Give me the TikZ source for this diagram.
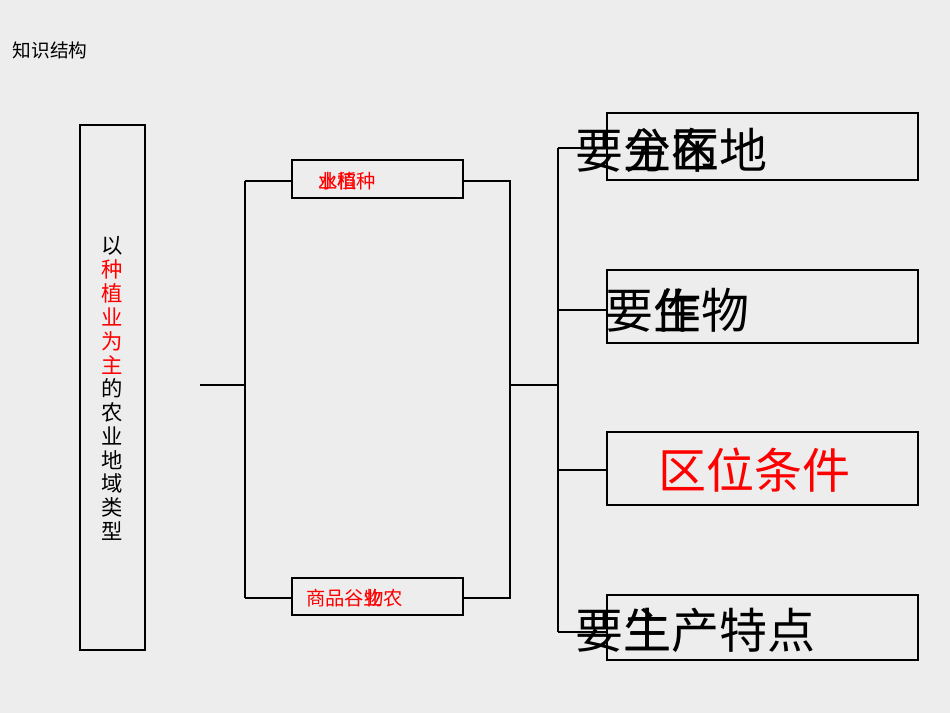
\documentclass[tikz,border=0pt]{standalone}
\usepackage{fontspec}
\newfontfamily\cjk{Noto Sans CJK SC}
\begin{document}
\begin{tikzpicture}[x=0.75pt,y=-0.75pt,
  bx/.style={draw=black,line width=1.6pt},
  ln/.style={draw=black,line width=1.4pt},
  big/.style={font=\cjk\fontsize{36}{36}\selectfont,anchor=west,inner sep=0pt},
  sm/.style={font=\cjk\fontsize{14.5}{15}\selectfont,anchor=west,inner sep=0pt,text=red},
  vt/.style={font=\cjk\fontsize{16}{16}\selectfont,inner sep=0pt}]
\fill[gray!14] (0,0) rectangle (950,713);
\useasboundingbox (0,0) rectangle (950,713);
\node[font=\cjk\fontsize{14}{14}\selectfont,anchor=west] (title) at (8,50) {知识结构};
% left box
\draw[bx] (80,125) rectangle (145,650);
\foreach \c/\col [count=\i] in {以/black,种/red,植/red,业/red,为/red,主/red,的/black,农/black,业/black,地/black,域/black,类/black,型/black}
  \node[vt,text=\col] at (112,{222+\i*23.8}) {\c};
% mid boxes
\draw[bx] (292,160) rectangle (463,198);
\draw[bx] (292,578) rectangle (463,615);
\node[sm] (t1) at (318,181) {水稻};
\node[sm] (t1b) at (318,181) {业植种};
\node[sm] (t2) at (306,598) {商品谷物农};
\node[sm] at (363,598) {业};
% connectors
\coordinate (a0) at (200,385);
\coordinate (a1) at (245,385);
\coordinate (a2) at (245,181);
\coordinate (a3) at (245,598);
\draw[ln] (a0)--(a1);
\draw[ln] (a2)--(a3);
\draw[ln] (a2)--(292,181);
\draw[ln] (a3)--(292,598);
\draw[ln] (463,181)--(510,181)--(510,598)--(463,598);
\draw[ln] (510,385)--(558,385);
\draw[ln] (558,148)--(558,632);
\foreach \y in {148,310,470,632} \draw[ln] (558,\y)--(608,\y);
% right boxes
\draw[bx] (607,113) rectangle (918,180);
\draw[bx] (607,270) rectangle (918,343);
\draw[bx] (607,432) rectangle (918,505);
\draw[bx] (607,595) rectangle (918,660);
\node[big] (r1) at (575,150) {要分布地};
\node[big] at (623,150) {主};
\node[big] at (671,150) {区};
\node[big] (r2) at (605,310) {要作物};
\node[big] at (653,310) {生};
\node[big,text=red] (r3) at (658,470) {区位条件};
\node[big] (r4) at (575,630) {要生产特点};
\node[big] at (623,630) {主};
\end{tikzpicture}
\end{document}
